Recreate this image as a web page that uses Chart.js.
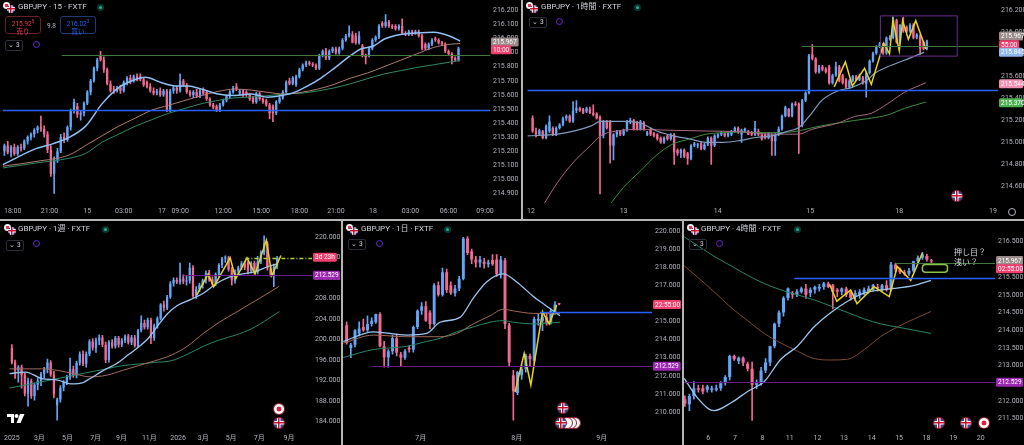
<!DOCTYPE html>
<html>
<head>
<meta charset="utf-8">
<script src="https://cdn.jsdelivr.net/npm/chart.js@4.4.1/dist/chart.umd.min.js"></script>
<style>
body { margin: 0; background: #000; overflow: hidden; }
#wrap { position: relative; width: 1024px; height: 445px; background: #000; font-family: Roboto, "Noto Sans CJK JP", sans-serif; }
canvas { position: absolute; }
.sep { position: absolute; background: #b4b4b4; }
.hdr { position: absolute; color: #d1d4dc; font-size: 8px; line-height: 10px; white-space: nowrap; }
.live { position: absolute; width: 7px; height: 7px; border-radius: 50%; background: #0b3b2e; }
.live::after { content: ""; position: absolute; left: 2px; top: 2px; width: 3px; height: 3px; border-radius: 50%; background: #22ab94; }
.pair { position: absolute; width: 13px; height: 11px; }
.pair .a { position: absolute; left: 0; top: 0; width: 7px; height: 7px; border-radius: 50%; background: radial-gradient(circle, #e0364f 35%, #f4f4f4 40%); }
.pair .b { position: absolute; left: 4px; top: 3px; width: 8px; height: 8px; border-radius: 50%; }
.uk { background:
  linear-gradient(#c8102e, #c8102e) center / 100% 1.5px no-repeat,
  linear-gradient(#c8102e, #c8102e) center / 1.5px 100% no-repeat,
  linear-gradient(#fff, #fff) center / 100% 3.5px no-repeat,
  linear-gradient(#fff, #fff) center / 3.5px 100% no-repeat,
  #2b4c9b; }
.vol { position: absolute; width: 16px; height: 9px; border: 1px solid #2a2e39; border-radius: 2px; color: #d1d4dc; font-size: 6.5px; line-height: 9px; text-align: center; }
.ring { position: absolute; width: 5px; height: 5px; border: 1.5px solid #6a2bd9; border-radius: 50%; }
.ev { position: absolute; width: 10px; height: 10px; border-radius: 50%; border: 1.5px solid #9b1b2e; box-sizing: content-box; }
.jp { background: radial-gradient(circle, #d91f3c 32%, #ffffff 38%); }
.pill { position: absolute; width: 36px; height: 18px; border-radius: 3px; font-size: 6.5px; line-height: 8px; text-align: center; padding-top: 1px; box-sizing: border-box; }
.pill sup { font-size: 4.5px; }
.note { position: absolute; color: #d1d4dc; font-size: 8px; line-height: 9px; white-space: nowrap; }
</style>
</head>
<body>
<div id="wrap">
  <canvas id="m15" width="521" height="219" style="left:0;top:0"></canvas>
  <canvas id="h1" width="501" height="219" style="left:523px;top:0"></canvas>
  <canvas id="wk" width="341" height="224" style="left:0;top:221px"></canvas>
  <canvas id="d1" width="339" height="224" style="left:343px;top:221px"></canvas>
  <canvas id="h4" width="340" height="224" style="left:684px;top:221px"></canvas>

  <div class="sep" style="left:521px;top:0;width:2px;height:219px"></div>
  <div class="sep" style="left:0;top:219px;width:1024px;height:2px"></div>
  <div class="sep" style="left:341px;top:221px;width:2px;height:224px"></div>
  <div class="sep" style="left:682px;top:221px;width:2px;height:224px"></div>

  <div class="pair" style="left:3px;top:2px"><div class="a"></div><div class="b uk"></div></div>
  <div class="hdr" style="left:18px;top:2px">GBPJPY · 15 · FXTF</div>
  <div class="live" style="left:97px;top:4px"></div>
  <div class="pill" style="left:5px;top:16px;border:1px solid #6b1f2a;color:#f23645">215.92<sup>5</sup><br>売り</div>
  <div class="hdr" style="left:47px;top:21px;font-size:6.5px;color:#b2b5be">9.8</div>
  <div class="pill" style="left:60px;top:16px;border:1px solid #1f3c7a;color:#2962ff">216.02<sup>3</sup><br>買い</div>
  <div class="vol" style="left:5px;top:40px">&#8964; 3</div>
  <div class="ring" style="left:33px;top:41px"></div>

  <div class="pair" style="left:526px;top:2px"><div class="a"></div><div class="b uk"></div></div>
  <div class="hdr" style="left:541px;top:2px">GBPJPY · 1時間 · FXTF</div>
  <div class="live" style="left:634px;top:4px"></div>
  <div class="vol" style="left:529px;top:17px">&#8964; 3</div>
  <div class="ring" style="left:556px;top:18px"></div>
  <div class="ev uk" style="left:951px;top:190px"></div>
  <div class="ring" style="left:1008px;top:208px;width:6px;height:6px;border:1px solid #b2b5be"></div>

  <div class="pair" style="left:4px;top:224px"><div class="a"></div><div class="b uk"></div></div>
  <div class="hdr" style="left:18px;top:224px">GBPJPY · 1週 · FXTF</div>
  <div class="live" style="left:102px;top:226px"></div>
  <div class="vol" style="left:6px;top:240px">&#8964; 3</div>
  <div class="ring" style="left:33px;top:240px"></div>
  <div class="ev jp" style="left:273px;top:403px"></div>
  <div class="ev uk" style="left:273px;top:417px"></div>
  <svg style="position:absolute;left:7px;top:414px" width="18" height="9"><path fill="#fff" d="M0 0h7v9H4V3H0z"/><circle cx="9.5" cy="2" r="2" fill="#fff"/><path fill="#fff" d="M13 0h4.5l-4 9H9.5z"/></svg>

  <div class="pair" style="left:346px;top:224px"><div class="a"></div><div class="b uk"></div></div>
  <div class="hdr" style="left:361px;top:224px">GBPJPY · 1日 · FXTF</div>
  <div class="live" style="left:444px;top:226px"></div>
  <div class="vol" style="left:348px;top:239px">&#8964; 3</div>
  <div class="ring" style="left:376px;top:240px"></div>
  <div class="ev uk" style="left:557px;top:402px"></div>
  <div class="ev jp" style="left:569px;top:417px;background:#fff"></div>
  <div class="ev jp" style="left:565px;top:417px;background:#fff"></div>
  <div class="ev jp" style="left:561px;top:417px;background:#fff"></div>
  <div class="ev uk" style="left:555px;top:417px"></div>

  <div class="pair" style="left:687px;top:224px"><div class="a"></div><div class="b uk"></div></div>
  <div class="hdr" style="left:701px;top:224px">GBPJPY · 4時間 · FXTF</div>
  <div class="live" style="left:794px;top:226px"></div>
  <div class="vol" style="left:689px;top:239px">&#8964; 3</div>
  <div class="ring" style="left:716px;top:240px"></div>
  <div class="note" style="left:954px;top:248px">押し目？</div>
  <div class="note" style="left:954px;top:258px">浅い？</div>
  <div class="ev uk" style="left:933px;top:417px"></div>
  <div class="ev uk" style="left:960px;top:417px"></div>
  <div class="ev jp" style="left:978px;top:417px"></div>
</div>

<script>
// ---------- 15 minute ----------
const m15Candles = [
  [215.20,215.25,215.17,215.24],[215.24,215.27,215.18,215.19],[215.19,215.24,215.16,215.23],[215.23,215.25,215.17,215.18],
  [215.18,215.24,215.17,215.23],[215.23,215.25,215.20,215.22],[215.22,215.28,215.21,215.27],[215.27,215.31,215.25,215.30],
  [215.30,215.33,215.28,215.32],[215.32,215.36,215.30,215.35],[215.35,215.38,215.33,215.37],[215.37,215.45,215.34,215.36],
  [215.36,215.38,215.30,215.32],[215.32,215.34,215.19,215.21],[215.21,215.24,215.02,215.04],[215.04,215.16,214.90,215.14],
  [215.14,215.22,215.12,215.20],[215.20,215.32,215.19,215.30],[215.30,215.33,215.26,215.28],[215.28,215.38,215.27,215.37],
  [215.37,215.50,215.35,215.49],[215.49,215.57,215.47,215.55],[215.52,215.54,215.44,215.46],[215.46,215.49,215.42,215.47],
  [215.47,215.55,215.45,215.54],[215.54,215.63,215.53,215.62],[215.62,215.71,215.60,215.70],[215.70,215.80,215.69,215.79],
  [215.79,215.86,215.77,215.85],[215.88,215.91,215.84,215.85],[215.85,215.87,215.76,215.78],[215.78,215.79,215.67,215.68],
  [215.68,215.70,215.62,215.63],[215.64,215.66,215.61,215.63],[215.63,215.66,215.62,215.65],[215.65,215.67,215.61,215.63],
  [215.63,215.70,215.62,215.69],[215.69,215.73,215.67,215.72],[215.72,215.74,215.68,215.70],[215.70,215.74,215.69,215.73],
  [215.73,215.75,215.70,215.71],[215.73,215.75,215.70,215.71],[215.71,215.72,215.66,215.67],[215.69,215.70,215.65,215.66],
  [215.66,215.68,215.62,215.63],[215.63,215.65,215.60,215.61],[215.61,215.64,215.60,215.63],[215.63,215.65,215.59,215.60],
  [215.60,215.64,215.59,215.63],[215.63,215.64,215.48,215.49],[215.49,215.64,215.48,215.63],[215.63,215.66,215.61,215.65],
  [215.65,215.66,215.61,215.63],[215.63,215.75,215.62,215.70],[215.70,215.71,215.66,215.67],[215.67,215.68,215.61,215.62],
  [215.62,215.63,215.59,215.60],[215.60,215.63,215.58,215.62],[215.62,215.64,215.58,215.59],[215.59,215.64,215.58,215.63],
  [215.64,215.65,215.60,215.61],[215.62,215.63,215.56,215.57],[215.57,215.58,215.52,215.53],[215.53,215.54,215.50,215.51],
  [215.52,215.53,215.48,215.49],[215.49,215.54,215.48,215.53],[215.53,215.57,215.52,215.56],[215.56,215.60,215.55,215.59],
  [215.59,215.63,215.58,215.62],[215.62,215.66,215.61,215.65],[215.66,215.68,215.63,215.64],[215.61,215.64,215.60,215.63],
  [215.63,215.64,215.59,215.60],[215.62,215.63,215.59,215.60],[215.60,215.61,215.56,215.57],[215.58,215.59,215.54,215.55],
  [215.55,215.62,215.54,215.61],[215.61,215.62,215.56,215.57],[215.57,215.58,215.54,215.55],[215.56,215.57,215.52,215.53],
  [215.53,215.54,215.43,215.47],[215.52,215.53,215.41,215.47],[215.47,215.56,215.46,215.55],[215.55,215.59,215.54,215.58],
  [215.58,215.63,215.57,215.62],[215.62,215.70,215.61,215.69],[215.70,215.72,215.67,215.68],[215.68,215.73,215.67,215.72],
  [215.67,215.74,215.66,215.73],[215.73,215.79,215.72,215.78],[215.78,215.82,215.77,215.81],[215.81,215.84,215.80,215.83],
  [215.83,215.84,215.81,215.82],[215.82,215.83,215.80,215.81],[215.81,215.82,215.78,215.79],[215.79,215.89,215.78,215.88],
  [215.88,215.92,215.87,215.91],[215.91,215.93,215.85,215.86],[215.86,215.92,215.85,215.91],[215.91,215.94,215.90,215.93],
  [215.93,215.94,215.89,215.90],[215.90,215.94,215.89,215.93],[215.93,216.00,215.92,215.99],[215.99,216.03,215.98,216.02],
  [216.02,216.09,216.01,216.04],[216.03,216.05,215.97,215.97],[216.02,216.04,215.96,215.97],[215.97,216.05,215.96,216.02],
  [215.95,215.96,215.87,215.88],[215.88,215.89,215.82,215.87],[215.88,215.94,215.87,215.93],[215.93,216.00,215.92,215.99],
  [215.99,216.02,215.98,216.01],[216.01,216.10,216.00,216.09],[216.11,216.12,216.08,216.09],[216.09,216.17,216.08,216.12],
  [216.12,216.13,216.08,216.09],[216.09,216.10,216.07,216.08],[216.09,216.10,216.06,216.07],[216.07,216.10,216.06,216.09],
  [216.09,216.14,216.03,216.04],[216.04,216.05,216.02,216.03],[216.03,216.06,216.02,216.05],[216.05,216.06,216.02,216.03],
  [216.04,216.06,216.03,216.05],[216.05,216.06,216.01,216.02],[216.02,216.03,215.92,215.93],[215.96,215.97,215.92,215.93],
  [215.93,215.97,215.92,215.96],[215.96,216.00,215.95,215.99],[216.00,216.01,215.98,215.99],[215.99,216.00,215.96,215.97],
  [215.97,215.98,215.95,215.96],[215.96,215.97,215.90,215.91],[215.91,215.92,215.88,215.89],[215.89,215.90,215.82,215.86],
  [215.86,215.87,215.84,215.85],[215.85,215.94,215.84,215.93]
];
const m15Fast = [[-0.5,215.104],[9.5,215.218],[14.5,215.252],[19.5,215.298],[24.5,215.378],[29.5,215.538],[34.5,215.652],
  [39.5,215.709],[42.5,215.725],[47.5,215.686],[51.5,215.664],[55.5,215.664],[59.5,215.641],[64.5,215.606],[69.5,215.595],
  [74.5,215.606],[79.5,215.584],[83.5,215.595],[87.5,215.618],[91.5,215.664],[95.5,215.720],[99.5,215.789],[104.5,215.880],
  [107.5,215.926],[111.5,215.949],[114.5,215.995],[119.5,216.029],[124.5,216.040],[129.5,216.045],[134.5,216.017],[137.5,215.983]];
const m15Mid = [[-0.5,215.093],[9.5,215.127],[19.5,215.173],[24.5,215.241],[29.5,215.310],[34.5,215.378],[39.5,215.435],
  [44.5,215.492],[49.5,215.526],[54.5,215.561],[59.5,215.595],[64.5,215.625],[69.5,215.641],[74.5,215.634],[79.5,215.618],
  [84.5,215.606],[89.5,215.618],[94.5,215.641],[99.5,215.675],[104.5,215.720],[109.5,215.755],[114.5,215.800],[119.5,215.846],
  [124.5,215.892],[129.5,215.937],[134.5,215.960],[137.5,215.965]];
const m15Slow = [[-0.5,215.081],[9.5,215.116],[19.5,215.150],[24.5,215.184],[29.5,215.264],[34.5,215.321],[39.5,215.378],
  [44.5,215.424],[49.5,215.469],[54.5,215.504],[59.5,215.538],[64.5,215.561],[69.5,215.579],[74.5,215.584],[79.5,215.595],
  [84.5,215.606],[89.5,215.612],[94.5,215.628],[99.5,215.650],[104.5,215.680],[109.5,215.715],[114.5,215.748],[119.5,215.772],
  [124.5,215.795],[129.5,215.814],[134.5,215.833],[137.5,215.846]];
const m15XTicks = [[2.5,'18:00'],[13.6,'21:00'],[25,'15'],[36,'03:00'],[47.5,'17'],[53,'09:00'],[66,'12:00'],[77.5,'15:00'],
  [89,'18:00'],[100,'21:00'],[111.2,'18'],[122.5,'03:00'],[134,'06:00'],[145,'09:00']];
const m15YTicks = [214.9,215.0,215.1,215.2,215.3,215.4,215.5,215.6,215.7,215.8,215.9,216.0,216.1,216.2];
const m15Lines = [215.495, 215.885];
const m15TagText = ['215.967', '10:00'];
const m15TagPrice = [215.976, 215.920];

// ---------- 1 hour ----------
const h1Candles = [
  [215.22,215.24,215.09,215.10],[215.10,215.13,215.05,215.07],[215.07,215.12,215.06,215.11],[215.10,215.11,215.03,215.04],
  [215.04,215.16,215.03,215.15],[215.10,215.24,215.09,215.19],[215.13,215.14,215.06,215.07],[215.07,215.14,215.06,215.13],
  [215.13,215.17,215.12,215.16],[215.16,215.23,215.15,215.22],[215.22,215.25,215.20,215.24],[215.24,215.25,215.18,215.19],
  [215.19,215.37,215.18,215.29],[215.29,215.38,215.27,215.31],[215.31,215.32,215.28,215.29],[215.30,215.31,215.26,215.27],
  [215.28,215.32,215.27,215.31],[215.30,215.32,215.26,215.27],[215.27,215.34,215.24,215.25],[215.26,215.27,215.21,215.22],
  [215.23,215.24,214.53,215.06],[215.06,215.20,215.04,215.19],[215.19,215.20,215.12,215.13],[215.19,215.20,214.81,214.97],
  [214.97,215.08,214.84,215.07],[215.07,215.11,215.05,215.10],[215.10,215.11,215.06,215.07],[215.07,215.12,215.06,215.11],
  [215.11,215.20,215.10,215.19],[215.19,215.22,215.17,215.20],[215.20,215.21,215.11,215.12],[215.18,215.19,215.11,215.12],
  [215.12,215.20,215.11,215.19],[215.18,215.19,215.11,215.12],[215.07,215.10,215.06,215.09],[215.12,215.13,215.06,215.07],
  [215.08,215.09,215.05,215.06],[215.07,215.08,215.02,215.03],[215.04,215.05,214.99,215.00],[215.00,215.05,214.99,215.04],
  [215.06,215.07,215.02,215.03],[215.03,215.08,215.02,215.07],[215.07,215.08,214.80,214.91],[214.93,214.94,214.88,214.90],
  [214.90,214.94,214.86,214.93],[214.93,214.94,214.86,214.87],[214.90,214.91,214.80,214.85],[214.85,214.98,214.84,214.97],
  [214.97,215.00,214.96,214.99],[214.97,214.99,214.95,214.98],[214.99,215.00,214.93,214.94],[214.94,214.99,214.93,214.98],
  [214.98,215.05,214.97,215.04],[215.04,215.05,214.80,214.97],[214.97,215.07,214.96,215.06],[215.05,215.08,215.04,215.07],
  [215.07,215.10,215.06,215.09],[215.08,215.09,215.05,215.06],[215.06,215.10,215.05,215.09],[215.07,215.11,215.06,215.10],
  [215.10,215.14,215.09,215.13],[215.13,215.14,215.08,215.09],[215.07,215.12,215.00,215.11],[215.10,215.13,215.09,215.12],
  [215.10,215.11,215.07,215.07],[215.09,215.10,215.06,215.07],[215.07,215.19,215.06,215.13],[215.10,215.12,215.06,215.07],
  [215.07,215.08,215.02,215.03],[215.07,215.08,215.03,215.04],[215.04,215.09,215.03,215.08],[215.07,215.08,214.88,215.01],
  [215.01,215.08,214.88,215.07],[215.07,215.14,215.06,215.12],[215.12,215.25,215.11,215.24],[215.24,215.33,215.23,215.32],
  [215.30,215.31,215.23,215.24],[215.24,215.36,215.23,215.35],[215.35,215.37,215.33,215.34],[215.35,215.36,214.90,215.15],
  [215.15,215.39,215.14,215.38],[215.38,215.46,215.37,215.45],[215.45,215.80,215.44,215.79],[215.80,215.89,215.75,215.76],
  [215.76,215.77,215.63,215.64],[215.64,215.70,215.63,215.69],[215.69,215.70,215.65,215.66],[215.67,215.68,215.63,215.64],
  [215.69,215.70,215.53,215.54],[215.54,215.62,215.53,215.61],[215.61,215.73,215.60,215.69],[215.69,215.70,215.55,215.56],
  [215.61,215.62,215.53,215.54],[215.57,215.58,215.49,215.50],[215.50,215.57,215.49,215.56],[215.56,215.61,215.55,215.60],
  [215.60,215.61,215.56,215.57],[215.57,215.62,215.56,215.60],[215.59,215.60,215.53,215.54],[215.53,215.64,215.41,215.63],
  [215.63,215.75,215.62,215.74],[215.74,215.82,215.73,215.81],[215.81,215.88,215.80,215.87],[215.87,215.91,215.86,215.90],
  [215.89,215.90,215.80,215.81],[215.81,215.96,215.80,215.95],[215.94,215.97,215.93,215.95],[215.95,216.14,215.94,216.11],
  [216.11,216.12,215.90,215.91],[215.91,216.07,215.90,216.07],[216.07,216.14,216.00,216.01],[216.05,216.06,216.00,216.01],
  [216.01,216.08,216.00,216.07],[216.07,216.08,215.94,215.95],[215.95,215.99,215.94,215.98],[215.97,215.98,215.80,215.85],
  [215.91,215.92,215.84,215.85],[215.85,215.93,215.84,215.92]
];
const h1Fast = [[-1.5,215.059],[7.4,215.074],[17.2,215.147],[20.1,215.191],[27,215.191],[31.9,215.176],[36.8,215.103],
  [41.7,215.059],[46.6,215.030],[51.5,215.000],[56.4,215.000],[61.3,215.015],[66.2,215.044],[71.1,215.059],[76,215.103],
  [78.9,215.132],[82.8,215.264],[85.8,215.381],[90.7,215.469],[94.6,215.498],[99.5,215.571],[101.5,215.629],[105.4,215.688],
  [110.3,215.746],[116.2,215.820]];
const h1Mid = [[2.9,214.416],[7.4,214.635],[12.3,214.825],[17.2,214.971],[20.1,215.059],[25,215.103],[31.9,215.117],
  [41.7,215.109],[51.5,215.103],[61.3,215.097],[71.1,215.074],[78.9,215.074],[82.8,215.117],[90.7,215.176],[95.6,215.235],
  [100.5,215.264],[105.4,215.352],[110.3,215.454],[116.7,215.542]];
const h1Slow = [[22.5,214.416],[27,214.591],[31.9,214.737],[36.8,214.884],[41.7,214.986],[46.6,215.030],[51.5,215.074],
  [56.4,215.088],[61.3,215.094],[66.2,215.088],[71.1,215.088],[78.9,215.103],[82.8,215.132],[90.7,215.176],[95.6,215.199],
  [100.5,215.220],[105.4,215.249],[110.3,215.308],[116.7,215.366]];
const h1Zig = [[89.5,215.504],[92.8,215.732],[94.9,215.512],[98.5,215.673],[100.5,215.527],[104.2,215.901],[105.9,215.805],
  [106.9,216.112],[108.8,215.834],[109.8,216.106],[111.5,215.937],[113.7,216.106],[116.7,215.849]];
const h1XTicks = [[-0.5,'12'],[27,'13'],[54.9,'14'],[82.4,'15'],[108.8,'18'],[136.6,'19']];
const h1YTicks = [214.6,214.8,215.0,215.2,215.4,215.6,215.8,216.0,216.2];
const h1Lines = [215.48, 215.875];
const h1Box = [103.2, 126, 216.15, 215.784];
const h1TagText = ['215.967', '55:00', '215.845', '215.544', '215.370'];
const h1TagPrice = [215.966, 215.887, 215.820, 215.533, 215.360];

// ---------- weekly ----------
const wkCandles = [
  [198.36,198.99,195.22,195.54],[195.54,196.00,192.40,193.97],[193.97,194.91,191.70,194.60],[194.60,195.00,190.52,193.03],
  [193.03,193.50,189.00,189.50],[189.50,192.50,187.00,191.90],[191.90,192.30,188.50,189.00],[189.00,191.50,188.20,191.20],
  [191.20,192.50,190.20,191.90],[191.90,193.60,191.00,193.30],[193.30,194.60,192.50,194.20],[194.20,196.20,193.50,195.50],
  [195.50,195.90,192.80,193.20],[193.20,193.80,188.60,189.30],[187.20,188.60,184.30,188.30],[188.30,191.00,187.80,190.60],
  [190.60,192.00,190.00,191.70],[191.70,193.00,191.20,192.70],[192.70,196.40,192.20,194.20],[194.20,194.80,192.60,193.00],
  [193.00,195.80,192.50,195.40],[195.40,197.60,195.00,197.20],[197.20,197.80,194.90,195.30],[195.30,197.60,194.60,197.20],
  [197.20,200.00,196.80,199.60],[199.60,200.20,197.90,198.40],[198.40,200.30,197.50,199.80],[199.80,200.90,199.00,200.40],
  [200.40,200.80,198.60,199.00],[199.00,199.50,195.50,196.00],[196.00,199.80,195.60,199.40],[199.40,200.00,198.30,198.70],
  [198.70,200.60,198.30,200.30],[200.30,200.60,198.50,199.00],[199.00,200.20,198.60,199.80],[199.80,200.90,199.40,200.60],
  [200.60,201.00,199.10,199.40],[199.40,200.80,199.00,200.40],[200.40,200.80,198.50,198.80],[198.80,202.00,198.40,201.80],
  [201.80,204.60,201.50,203.20],[203.20,203.80,202.00,202.40],[202.40,204.20,202.00,203.80],[203.80,204.20,199.20,200.30],
  [200.30,203.00,199.80,202.70],[202.70,204.40,202.20,204.10],[204.10,207.00,203.80,206.80],[206.80,207.50,205.50,206.20],
  [206.20,208.60,205.80,208.30],[208.30,211.30,208.00,210.90],[210.90,212.00,210.40,211.60],[211.60,212.00,210.90,211.20],
  [211.20,214.90,210.80,211.90],[211.90,212.60,210.90,211.30],[211.30,212.40,210.60,211.50],[211.50,214.90,211.00,214.00],
  [214.00,214.40,208.20,208.50],[208.50,210.30,208.00,209.80],[209.80,211.00,209.30,210.60],[210.60,211.80,210.00,211.50],
  [211.50,213.40,211.00,213.00],[213.00,213.50,211.30,211.70],[211.70,212.20,210.60,210.90],[210.90,213.00,210.50,212.70],
  [212.70,214.80,212.30,214.50],[214.50,216.00,214.00,215.80],[215.80,216.30,215.00,215.90],[215.90,216.20,213.30,213.60],
  [213.60,214.00,210.60,211.50],[211.50,213.60,211.00,213.30],[213.30,214.30,212.80,214.00],[214.00,215.20,213.60,214.80],
  [214.80,215.30,213.60,214.00],[214.90,215.30,212.80,213.40],[213.40,215.20,213.00,214.90],[214.90,215.30,212.80,213.10],
  [213.10,216.20,212.80,215.20],[215.20,217.30,214.80,216.90],[216.90,220.20,216.50,218.70],[218.70,219.10,213.50,213.90],
  [213.90,214.40,212.30,212.60],[212.60,214.70,210.30,214.20],[214.20,216.20,213.80,215.90]
];
const wkFast = [[-0.8,193.34],[4.2,193.66],[9.2,192.40],[14.2,192.09],[18.2,191.34],[22.2,191.65],[24.2,192.40],[29.2,194.28],
  [32.2,195.22],[36.2,197.11],[39.2,198.55],[42.2,200.24],[45.2,202.75],[48.2,205.07],[51.2,206.64],[55.2,207.77],[59.2,209.02],
  [63.2,210.90],[67.2,212.16],[71.2,212.79],[75.2,213.22],[79.2,214.23],[82.2,214.79]];
const wkMid = [[-0.8,194.28],[9.2,194.28],[14.2,193.97],[19.2,193.34],[24.2,192.72],[29.2,193.03],[34.2,193.97],[39.2,194.91],
  [44.2,195.85],[49.2,196.92],[54.2,198.67],[59.2,201.18],[64.2,203.38],[69.2,205.26],[74.2,207.14],[79.2,209.02],[82.7,210.40]];
const wkSlow = [[-0.8,190.52],[9.2,191.77],[19.2,193.03],[24.2,193.66],[29.2,194.28],[34.2,194.91],[39.2,195.22],[44.2,195.54],
  [49.2,195.85],[54.2,197.11],[59.2,198.67],[64.2,199.93],[69.2,200.87],[74.2,202.12],[79.2,204.00],[82.7,205.45]];
const wkZig = [[57.2,208.71],[60.7,212.79],[62.4,210.28],[67.5,215.92],[69.2,211.84],[72.7,215.92],[75.2,212.79],
  [78.7,219.37],[80.4,212.47],[83.2,216.36]];
const wkXTicks = [[0,'2025'],[8.5,'3月'],[17.2,'5月'],[25.9,'7月'],[33.9,'9月'],[42.5,'11月'],[51.4,'2026'],[59.2,'3月'],
  [67.8,'5月'],[76.5,'7月'],[85.7,'9月']];
const wkYTicks = [184,188,192,196,200,204,208,212,216,220];
const wkLines = [212.529, 215.91];
const wkTagText = ['3d 23h', '212.529'];
const wkTagPrice = [216.05, 212.529];

// ---------- daily ----------
const d1Candles = [
  [214.79,214.97,213.75,213.81],[213.54,213.80,213.00,213.72],[213.72,214.55,213.60,214.52],[214.34,214.99,214.20,214.61],
  [214.70,215.14,214.45,214.52],[214.52,215.32,214.45,214.87],[214.87,215.20,214.75,215.05],[214.96,215.41,214.90,215.41],
  [215.41,215.50,213.60,213.63],[213.63,213.90,212.48,213.01],[213.01,213.45,212.48,213.36],[213.36,214.25,213.20,214.07],
  [214.07,214.30,213.10,213.27],[213.18,213.30,212.55,213.00],[213.00,213.45,212.90,213.36],[213.54,213.65,213.30,213.45],
  [213.45,214.75,213.30,214.70],[214.70,215.65,214.60,215.59],[215.59,216.05,215.40,215.85],[215.85,216.10,215.00,215.05],
  [215.50,215.60,214.60,214.87],[214.87,217.10,214.80,217.01],[217.00,217.20,216.40,216.48],[216.48,217.95,216.40,217.72],
  [217.72,217.90,216.60,216.74],[217.01,217.20,216.50,216.57],[216.57,217.00,216.40,216.83],[216.83,217.50,216.70,217.37],
  [217.37,219.65,217.30,219.59],[219.59,219.70,218.70,218.79],[218.88,219.00,218.20,218.43],[218.43,218.60,218.00,218.26],
  [218.26,218.60,218.00,218.43],[218.30,218.50,217.95,218.17],[218.17,218.40,218.00,218.26],[218.40,218.70,218.10,218.17],
  [218.43,218.70,217.50,217.63],[217.63,218.60,217.40,218.43],[218.37,218.50,214.60,214.87],[214.79,214.90,212.50,212.74],
  [212.03,212.30,209.55,211.14],[211.05,212.25,210.95,212.20],[212.03,212.60,211.80,212.38],[212.38,213.20,212.20,213.10],
  [213.10,213.20,212.50,212.92],[212.83,215.25,212.70,215.14],[215.05,215.40,214.80,215.14],[215.05,215.50,214.50,215.23],
  [215.23,215.50,214.80,214.87],[214.96,215.70,214.85,215.59],[215.50,216.10,215.40,215.94],[215.97,216.00,215.92,215.95]
];
const d1Fast = [[-0.8,213.90],[6.4,214.43],[14.4,214.25],[19.2,214.34],[22.4,214.96],[27.2,215.23],[30.4,216.30],
  [33.6,217.19],[37.6,217.63],[40.8,217.19],[44.8,216.39],[48,215.85],[51.2,215.32]];
const d1Mid = [[-0.8,213.81],[6.4,214.25],[14.4,214.16],[22.4,214.16],[26.4,214.34],[30.4,214.87],[34.4,215.32],
  [37.6,215.68],[40,215.59],[44.8,215.45],[48,215.45],[51.2,215.45]];
const d1Slow = [[-0.8,213.01],[6.4,213.45],[14.4,213.63],[19.2,213.90],[22.4,214.07],[26.4,214.43],[30.4,214.70],
  [34.4,214.96],[37.6,215.05],[40,214.96],[44.8,214.87],[48,214.91],[51.2,214.96]];
const d1Zig = [[40.4,211.10],[42.6,213.24],[44.2,211.49],[47,215.55],[48.6,214.87],[50.4,215.91]];
const d1XTicks = [[17.8,'7月'],[40.8,'8月'],[61.2,'9月']];
const d1YTicks = [210,211,212,213,214,215,216,217,218,219,220];
const d1Lines = [215.50, 212.529];
const d1TagText = ['22:55:00', '212.529'];
const d1TagPrice = [215.94, 212.529];

// ---------- 4 hour ----------
const h4Candles = [
  [212.05,212.15,211.85,211.92],[211.91,212.20,211.73,212.14],[212.14,212.55,212.05,212.36],[212.36,212.45,212.25,212.32],
  [212.36,212.45,212.20,212.27],[212.32,212.45,212.25,212.41],[212.32,212.42,212.25,212.36],[212.32,212.45,212.28,212.36],
  [212.36,212.55,212.30,212.50],[212.50,212.72,212.45,212.68],[212.68,213.30,212.60,213.27],[213.27,213.30,213.15,213.18],
  [213.13,213.25,213.05,213.22],[213.22,213.25,213.00,213.09],[213.05,213.10,212.85,212.91],[212.91,213.10,211.45,212.46],
  [212.46,212.60,212.35,212.50],[212.50,212.95,212.45,212.86],[212.86,213.20,212.80,213.09],[213.09,213.55,213.00,213.55],
  [213.55,214.20,213.50,214.18],[214.18,214.55,214.10,214.50],[214.50,214.95,214.40,214.91],[214.91,215.20,214.85,215.18],
  [215.05,215.10,214.90,215.00],[215.00,215.15,214.95,215.09],[215.09,215.22,215.05,215.18],[215.18,215.30,214.90,215.00],
  [215.05,215.20,214.95,215.14],[215.14,215.25,215.05,215.22],[215.18,215.30,215.10,215.22],[215.22,215.35,215.15,215.32],
  [215.32,215.36,215.20,215.22],[215.27,215.30,214.60,215.09],[215.14,215.18,214.95,215.09],[215.09,215.20,215.00,215.18],
  [215.18,215.22,214.95,215.00],[215.09,215.12,214.85,214.91],[214.95,215.12,214.85,215.05],[215.00,215.15,214.90,215.09],
  [215.05,215.20,215.00,215.14],[215.09,215.25,215.05,215.18],[215.14,215.30,215.10,215.27],[215.22,215.30,215.10,215.18],
  [215.14,215.30,215.10,215.27],[215.27,215.40,215.10,215.14],[215.14,215.92,215.10,215.86],[215.86,215.90,215.65,215.72],
  [215.72,215.76,215.60,215.64],[215.64,215.70,215.55,215.60],[215.60,215.75,215.55,215.68],[215.68,215.95,215.65,215.95],
  [215.95,216.10,215.90,216.05],[216.05,216.20,216.00,216.14],[216.10,216.15,215.95,216.00],[215.98,216.00,215.90,215.95]
];
const h4Fast = [[-0.15,212.64],[2.8,212.09],[6.5,211.73],[10.3,211.95],[14,212.27],[17.7,212.55],[21.4,213.18],[25.1,213.55],
  [28.8,214.09],[32.6,214.50],[36.3,214.82],[40,215.05],[43.7,215.14],[46.7,215.18],[51.2,215.27],[54.9,215.41]];
const h4Mid = [[-0.15,215.82],[6.5,215.09],[10.3,214.64],[14,214.27],[17.7,213.91],[21.4,213.64],[25.1,213.41],[28.8,213.20],
  [32.6,213.16],[36.3,213.18],[40,213.45],[43.7,213.82],[47.4,214.09],[51.2,214.32],[54.9,214.53]];
const h4Slow = [[-0.15,216.64],[6.5,216.09],[10.3,215.82],[14,215.55],[17.7,215.32],[21.4,215.14],[25.1,215.00],[28.8,214.86],
  [32.6,214.68],[36.3,214.50],[40,214.32],[43.7,214.18],[47.4,214.09],[51.2,214.00],[54.9,213.91]];
const h4Zig = [[32.3,215.29],[33.9,214.82],[37,215.14],[38.4,214.75],[42.2,215.23],[45.6,214.95],[47.4,215.80],[50.4,215.41],[53,216.18]];
const h4XTicks = [[5.2,'6'],[11.2,'7'],[17.3,'8'],[23.4,'11'],[29.6,'12'],[35.5,'13'],[41.7,'14'],[47.8,'15'],[53.9,'18'],[59.9,'19'],[66,'20']];
const h4YTicks = [211.5,212.0,212.5,213.0,213.5,214.0,214.5,215.0,215.5,216.0,216.5];
const h4Lines = [215.48, 212.529, 215.90];
const h4Box = [53, 58.6, 215.86, 215.64];
const h4TagText = ['215.967', '02:55:00', '212.529'];
const h4TagPrice = [215.967, 215.736, 212.529];

// ---------- drawing ----------
Chart.defaults.font.family = 'Roboto, "Noto Sans CJK JP", sans-serif';
Chart.defaults.color = '#b2b5be';

const UP = '#64a5f5';
const DOWN = '#f06a92';
const ZIG = '#e8d41e';
const GREY_TAG = '#9a8a8a';
const TIMER_TAG = '#f23d6d';
const PURPLE = '#9c27b0';

const decor = {
  id: 'decor',
  afterDatasetsDraw(chart, args, o) {
    const { ctx, chartArea: a, scales: { x, y } } = chart;
    ctx.save();
    ctx.beginPath();
    ctx.rect(a.left, a.top, a.width, a.height);
    ctx.clip();
    (o.levels || []).forEach(l => {
      const py = Math.round(y.getPixelForValue(l.value)) + 0.5;
      ctx.strokeStyle = l.color;
      ctx.lineWidth = l.width || 1;
      ctx.setLineDash(l.dash || []);
      ctx.beginPath();
      ctx.moveTo(x.getPixelForValue(l.from), py);
      ctx.lineTo(a.right, py);
      ctx.stroke();
    });
    ctx.setLineDash([]);
    (o.boxes || []).forEach(b => {
      const x0 = x.getPixelForValue(b.rect[0]), x1 = x.getPixelForValue(b.rect[1]);
      const y0 = y.getPixelForValue(b.rect[2]), y1 = y.getPixelForValue(b.rect[3]);
      ctx.strokeStyle = b.color;
      ctx.lineWidth = b.width;
      ctx.beginPath();
      ctx.roundRect(x0, y0, x1 - x0, y1 - y0, b.radius || 0);
      ctx.stroke();
    });
    ctx.restore();
  },
  afterDraw(chart, args, o) {
    const { ctx, chartArea: a, scales: { y } } = chart;
    ctx.save();
    ctx.font = '6.5px Roboto';
    ctx.textBaseline = 'middle';
    ctx.textAlign = 'left';
    (o.tags || []).forEach(t => {
      const py = y.getPixelForValue(t.value);
      const x0 = a.right + 1, h = 9;
      const w = Math.min(chart.width - x0 - 1, ctx.measureText(t.text).width + 4);
      ctx.fillStyle = t.bg;
      ctx.beginPath();
      ctx.roundRect(x0, py - h / 2, w, h, 1.5);
      ctx.fill();
      ctx.fillStyle = t.fg || '#ffffff';
      ctx.fillText(t.text, x0 + 2, py + 0.5);
    });
    ctx.restore();
  }
};

function candleSets(candles) {
  const col = candles.map(c => c[3] >= c[0] ? UP : DOWN);
  return [
    { type: 'bar', data: candles.map((c, i) => ({ x: i, y: [c[2], c[1]] })), backgroundColor: col,
      barThickness: 1, grouped: false, order: 3 },
    { type: 'bar', data: candles.map((c, i) => ({ x: i, y: [c[0], c[3]] })), backgroundColor: col,
      barPercentage: 0.7, categoryPercentage: 1, grouped: false, minBarLength: 1, order: 2 }
  ];
}

function lineSet(pts, color, width, order, curved) {
  return {
    type: 'line', data: pts.map(p => ({ x: p[0], y: p[1] })), borderColor: color, borderWidth: width,
    pointRadius: 0, tension: curved ? 0.4 : 0, cubicInterpolationMode: curved ? 'monotone' : 'default', order
  };
}

function tags(text, price, colors) {
  return text.map((t, i) => ({ text: t, value: price[i], bg: colors[i] }));
}

function makeChart(id, o) {
  const sets = [];
  if (o.zig) sets.push(lineSet(o.zig, ZIG, 1.5, 0, false));
  o.mas.forEach(m => sets.push(lineSet(m[0], m[1], m[2], 1, true)));
  sets.push(...candleSets(o.candles));
  return new Chart(document.getElementById(id), {
    type: 'bar',
    data: { datasets: sets },
    options: {
      animation: false,
      responsive: false,
      events: [],
      layout: { autoPadding: false, padding: 0 },
      plugins: {
        legend: { display: false },
        tooltip: { enabled: false },
        decor: { levels: o.levels, boxes: o.boxes, tags: o.tags }
      },
      scales: {
        x: {
          type: 'linear', min: o.x[0], max: o.x[1], offset: false,
          grid: { display: false, drawTicks: false }, border: { display: false },
          afterBuildTicks: s => { s.ticks = o.xTicks.map(t => ({ value: t[0] })); },
          afterFit: s => { s.height = o.xh; },
          ticks: { autoSkip: false, maxRotation: 0, padding: 4, font: { size: 7 }, color: '#b2b5be',
            callback: (v, i) => o.xTicks[i] ? o.xTicks[i][1] : '' }
        },
        y: {
          position: 'right', min: o.y[0], max: o.y[1],
          grid: { display: false, drawTicks: false }, border: { display: false },
          afterBuildTicks: s => { s.ticks = o.yTicks.map(v => ({ value: v })); },
          afterFit: s => { s.width = o.yw; },
          ticks: { padding: 3, font: { size: 7 }, color: '#b2b5be', callback: v => v.toFixed(3) }
        }
      }
    },
    plugins: [decor]
  });
}

makeChart('m15', {
  candles: m15Candles,
  mas: [[m15Fast, '#8ec1f7', 1.5], [m15Mid, '#b07a6e', 1], [m15Slow, '#2f8a63', 1]],
  x: [-0.5, 146.5], y: [214.832, 216.223], xh: 16, yw: 31,
  xTicks: m15XTicks, yTicks: m15YTicks,
  levels: [
    { value: m15Lines[0], from: -0.5, color: '#2962ff', width: 1.5 },
    { value: m15Lines[1], from: 17.3, color: '#3f7a3a', width: 1 }
  ],
  tags: tags(m15TagText, m15TagPrice, [GREY_TAG, TIMER_TAG])
});

makeChart('h1', {
  candles: h1Candles, zig: h1Zig,
  mas: [[h1Fast, '#7f9bbf', 1.2], [h1Mid, '#a8687c', 1], [h1Slow, '#3c8c3c', 1]],
  x: [-1.57, 138.1], y: [214.448, 216.229], xh: 16, yw: 26,
  xTicks: h1XTicks, yTicks: h1YTicks,
  levels: [
    { value: h1Lines[0], from: -1.57, color: '#2962ff', width: 1.5 },
    { value: h1Lines[1], from: 79.9, color: '#3f7a3a', width: 1 }
  ],
  boxes: [{ rect: h1Box, color: '#6a2c91', width: 1 }],
  tags: tags(h1TagText, h1TagPrice, [GREY_TAG, TIMER_TAG, '#8fb8f0', '#f48fb1', '#4caf50'])
});

makeChart('wk', {
  candles: wkCandles, zig: wkZig,
  mas: [[wkFast, '#9cc6f2', 1.3], [wkMid, '#a06a5c', 1], [wkSlow, '#26876a', 1]],
  x: [-0.8, 92.8], y: [182.366, 221.692], xh: 15, yw: 29,
  xTicks: wkXTicks, yTicks: wkYTicks,
  levels: [
    { value: wkLines[0], from: 53, color: '#6a1b8a', width: 1 },
    { value: wkLines[1], from: 72.2, color: '#b5d334', width: 1.5, dash: [4, 2, 1, 2] }
  ],
  tags: tags(wkTagText, wkTagPrice, [TIMER_TAG, PURPLE])
});

makeChart('d1', {
  candles: d1Candles, zig: d1Zig,
  mas: [[d1Fast, '#9cc6f2', 1.3], [d1Mid, '#a06a5c', 1], [d1Slow, '#26876a', 1]],
  x: [-0.88, 73.28], y: [209.003, 220.16], xh: 15, yw: 30,
  xTicks: d1XTicks, yTicks: d1YTicks,
  levels: [
    { value: d1Lines[0], from: 46.4, color: '#2962ff', width: 1.5 },
    { value: d1Lines[1], from: 6, color: '#6a1b8a', width: 1 }
  ],
  tags: tags(d1TagText, d1TagPrice, [TIMER_TAG, PURPLE])
});

makeChart('h4', {
  candles: h4Candles, zig: h4Zig,
  mas: [[h4Fast, '#9cc6f2', 1.3], [h4Mid, '#7a4a3a', 1], [h4Slow, '#26876a', 1]],
  x: [-0.2, 69.2], y: [211.182, 216.882], xh: 15, yw: 29,
  xTicks: h4XTicks, yTicks: h4YTicks,
  levels: [
    { value: h4Lines[0], from: 24.4, color: '#2962ff', width: 1.5 },
    { value: h4Lines[1], from: -0.2, color: '#6a1b8a', width: 1 },
    { value: h4Lines[2], from: 47, color: '#3f7a3a', width: 1 }
  ],
  boxes: [{ rect: h4Box, color: '#8bc34a', width: 1.5, radius: 3 }],
  tags: tags(h4TagText, h4TagPrice, [GREY_TAG, TIMER_TAG, PURPLE])
});
</script>
</body>
</html>
